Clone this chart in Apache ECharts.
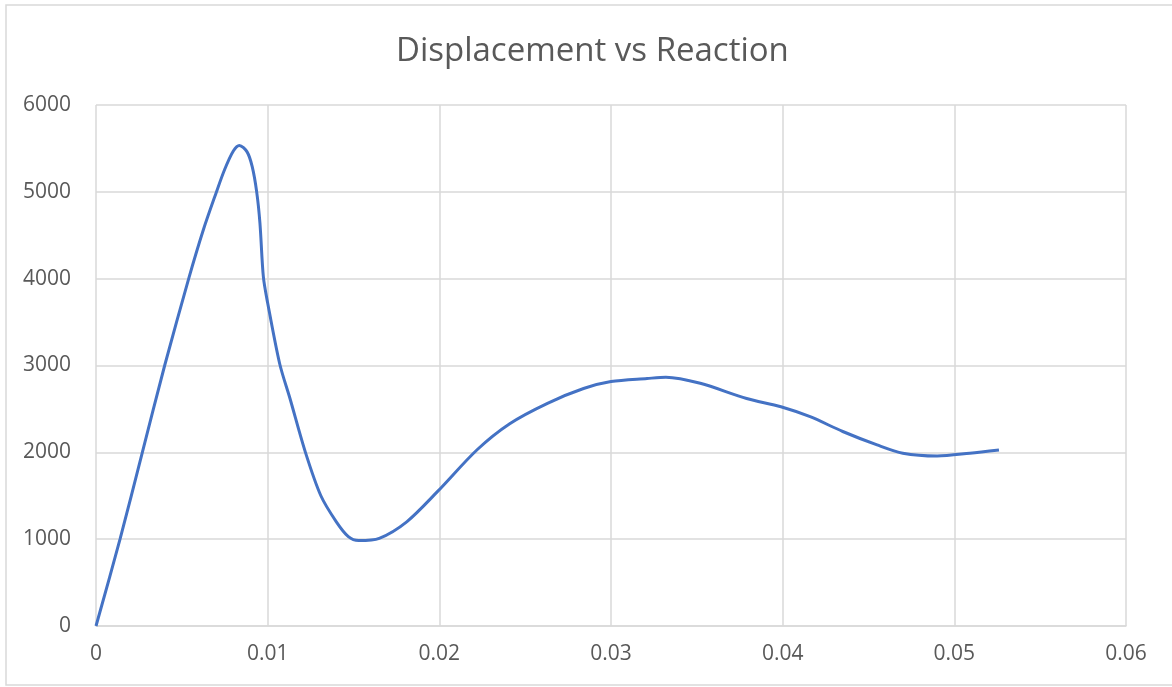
<!DOCTYPE html>
<html>
<head>
<meta charset="utf-8">
<script src="https://cdn.jsdelivr.net/npm/echarts@6/dist/echarts.min.js"></script>
<style>html,body{margin:0;padding:0;background:#fff;}#c{width:1172px;height:687px;}</style>
</head>
<body>
<div id="c"></div>
<script>
const titleText = 'Displacement vs Reaction';
const displacement = [0, 0.0014, 0.0027, 0.0040, 0.0054, 0.00625, 0.0070, 0.0075, 0.0080, 0.00835, 0.0088, 0.0091, 0.00936, 0.00955, 0.00975, 0.0100, 0.0107, 0.0113, 0.0122, 0.0131, 0.0140, 0.0147, 0.0153, 0.0165, 0.0181, 0.0199, 0.0222, 0.0241, 0.0263, 0.0284, 0.0300, 0.0321, 0.0332, 0.0352, 0.0379, 0.0399, 0.0416, 0.0435, 0.0455, 0.0470, 0.0490, 0.0509, 0.0526];
const reaction = [0, 1000, 2000, 3000, 4000, 4560, 4990, 5260, 5470, 5535, 5460, 5290, 5000, 4640, 4020, 3720, 3020, 2620, 2000, 1500, 1200, 1030, 985, 1010, 1200, 1550, 2030, 2330, 2565, 2735, 2815, 2850, 2865, 2795, 2620, 2525, 2410, 2240, 2085, 1990, 1958, 1990, 2027];
const xMin = 0, xMax = 0.06, xStep = 0.01;
const yMin = 0, yMax = 6000, yStep = 1000;

const chart = echarts.init(document.getElementById('c'), null, {renderer: 'canvas'});
const pts = displacement.map((x, i) => [x, reaction[i]]);
chart.setOption({
  backgroundColor: '#fff',
  animation: false,
  graphic: [{
    type: 'rect',
    shape: {x: 6, y: 5, width: 1180, height: 680},
    style: {fill: 'none', stroke: '#d9d9d9', lineWidth: 1.5},
    silent: true
  }],
  title: {
    text: titleText,
    left: 391,
    top: 30,
    textStyle: {fontFamily: 'Open Sans', fontSize: 33, fontWeight: 'normal', color: '#595959'}
  },
  grid: {left: 96, right: 46, top: 105, bottom: 61, containLabel: false},
  xAxis: {
    type: 'value', min: xMin, max: xMax, interval: xStep,
    axisLine: {show: true, lineStyle: {color: '#d9d9d9', width: 1.5}},
    axisTick: {show: false},
    splitLine: {show: true, lineStyle: {color: '#d9d9d9', width: 1.5}},
    axisLabel: {fontFamily: 'Open Sans', fontSize: 21, color: '#595959', margin: 18}
  },
  yAxis: {
    type: 'value', min: yMin, max: yMax, interval: yStep,
    axisLine: {show: false},
    axisTick: {show: false},
    splitLine: {show: true, lineStyle: {color: '#d9d9d9', width: 1.5}},
    axisLabel: {fontFamily: 'Open Sans', fontSize: 21, color: '#595959', margin: 25, formatter: v => String(v)}
  },
  series: [{
    type: 'line',
    data: pts,
    smooth: 0.3,
    showSymbol: false,
    lineStyle: {color: '#4472c4', width: 3},
    itemStyle: {color: '#4472c4'}
  }]
});
</script>
</body>
</html>
